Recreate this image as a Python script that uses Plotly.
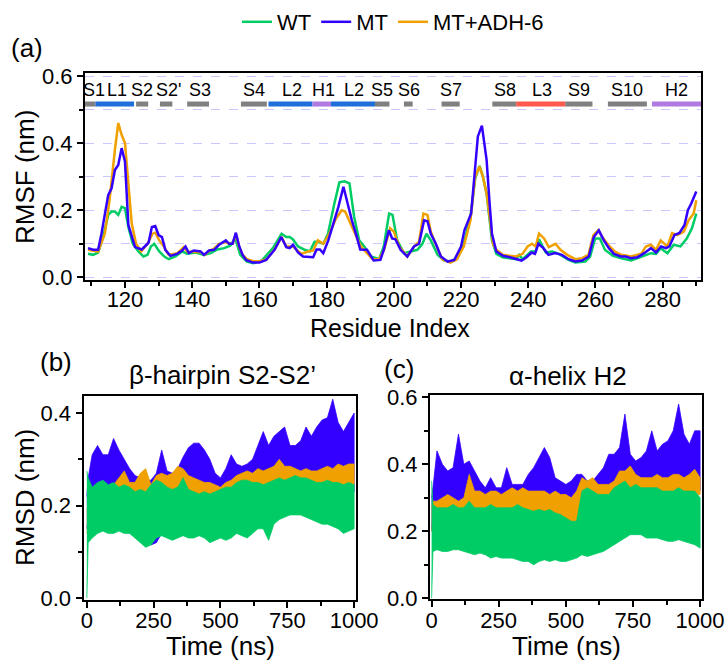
import plotly.graph_objects as go

# ---------------- data: RMSF (panel a) ----------------
res_wt = [109,110.5,112,113.5,115,116,117,118,119,120,121,122.3,124,125.5,126.7,127.7,128.7,130.2,131.7,133,
          135,137,138.5,141,143.5,145.5,147.5,149.5,151.3,152.8,154.3,156.3,158.2,160.7,164,166.6,168,169,170,171.5,
          173.5,175,176.4,177.4,179,180.4,182.3,183.8,185.3,186.8,188.2,189.7,191.2,193.2,195.6,197,198.6,199.6,201,203,
          205,207,208.5,209.7,211,213,215,216.8,218.8,220.8,222.8,224.2,225.5,226.5,227.6,228.5,229.2,230.5,232.4,234.4,
          236.4,237.3,238.3,240.8,242.2,243.2,245.2,247.1,249.1,252,254,257,258.4,259.9,261.3,262.8,265.2,267.7,270.6,272.6,
          274.5,276.5,278,279.4,281.4,283.3,285.3,287.2,288.7,290]
rmsf_wt = [0.07,0.067,0.074,0.12,0.186,0.196,0.196,0.186,0.21,0.206,0.15,0.10,0.077,0.062,0.067,0.092,0.10,0.077,0.062,0.054,
           0.062,0.077,0.07,0.074,0.067,0.072,0.083,0.087,0.094,0.116,0.067,0.047,0.042,0.05,0.087,0.13,0.12,0.12,0.113,0.092,
           0.082,0.077,0.106,0.106,0.10,0.13,0.22,0.283,0.286,0.28,0.18,0.11,0.092,0.062,0.054,0.092,0.19,0.186,0.11,0.072,
           0.077,0.082,0.10,0.13,0.11,0.067,0.05,0.047,0.057,0.10,0.18,0.295,0.332,0.30,0.25,0.18,0.11,0.07,0.06,0.057,
           0.054,0.067,0.054,0.077,0.077,0.113,0.074,0.077,0.07,0.052,0.044,0.047,0.062,0.116,0.116,0.082,0.064,0.057,0.05,0.057,
           0.064,0.072,0.07,0.087,0.072,0.097,0.092,0.116,0.146,0.19]

res_mt = [109,110.5,112,113,115,116,117,118,119,120,121,122,123,125,127,128,129,130,131,132,
          133.5,135.5,137,138,139,140.5,142.5,143.5,145,146.5,148,150,151,152,153,154,155,156,158,160,
          162,164.5,166.5,168,169,170,171.5,173,175,176,177,178,179,180.5,182,183.5,185,186,187.5,189,
          190,192,194,196,197,198.5,199.5,200.5,202,204,206,207.5,209,210,211,212.5,214,216,218,220,
          221,223,224,225,226.2,227.6,228.5,229.2,230.5,232.5,234.5,236.5,238,239.5,241,242,243,244.5,246,248,
          250,252,254,256,258,259.5,261,262.5,264,265.5,267.5,269,270.5,272.5,274.5,276.5,278,279.5,281,282,
          283.5,285,286.5,287.5,288.5,290]
rmsf_mt = [0.087,0.082,0.082,0.13,0.245,0.265,0.32,0.335,0.385,0.345,0.156,0.12,0.09,0.083,0.103,0.15,0.153,0.126,0.12,0.082,
           0.064,0.07,0.08,0.092,0.072,0.08,0.077,0.067,0.08,0.082,0.097,0.11,0.10,0.10,0.133,0.092,0.067,0.052,0.044,0.044,
           0.052,0.082,0.12,0.09,0.087,0.097,0.074,0.062,0.06,0.06,0.083,0.083,0.072,0.11,0.16,0.21,0.27,0.23,0.17,0.12,
           0.083,0.082,0.05,0.052,0.082,0.14,0.116,0.113,0.082,0.062,0.092,0.10,0.17,0.167,0.13,0.10,0.062,0.047,0.052,0.092,
           0.14,0.19,0.31,0.42,0.452,0.35,0.22,0.13,0.077,0.064,0.06,0.054,0.05,0.06,0.074,0.07,0.10,0.087,0.067,0.072,
           0.067,0.054,0.047,0.05,0.062,0.12,0.14,0.11,0.087,0.07,0.062,0.062,0.057,0.06,0.072,0.087,0.074,0.092,0.087,0.092,
           0.126,0.132,0.156,0.20,0.22,0.256]

res_adh = [109,112,114,115.4,117,118,119,120,121,122,123.3,124.8,126.7,128.2,129,130.2,131.7,133,135.6,137.5,
           138.5,140.5,142.5,143.7,145,146.4,148,150,151,152,153,154,155,156.3,158.2,160.2,162.2,164.6,166.6,168,
           170,172.5,174.4,176,177.4,179,180.8,182.8,184.5,185.5,187.3,188.7,190.2,193.7,195.6,197.1,198.9,200,201.6,204,
           206,207.5,208.8,210,211,212.4,214.4,216.8,218.8,220.8,222.8,224.2,225.5,226.5,227.6,228.5,229.5,230.5,232.4,234.4,
           236.4,238.3,239.8,241.1,242.2,243.2,244.7,246.1,248.1,249.6,251.6,254,256,257.9,259.4,260.8,262.3,263.8,265.7,267.7,
           270.6,273.6,275,276.5,278,279.4,281.4,282.8,284.3,286.3,287.7,289.2,290]
rmsf_adh = [0.082,0.077,0.13,0.23,0.38,0.46,0.425,0.40,0.28,0.16,0.10,0.077,0.10,0.13,0.133,0.11,0.09,0.067,0.072,0.09,
            0.077,0.075,0.075,0.067,0.078,0.085,0.10,0.105,0.10,0.10,0.128,0.09,0.067,0.054,0.048,0.048,0.054,0.085,0.12,0.092,
            0.092,0.07,0.077,0.08,0.11,0.10,0.13,0.175,0.20,0.196,0.156,0.12,0.092,0.054,0.054,0.082,0.146,0.136,0.092,0.062,
            0.092,0.106,0.19,0.186,0.136,0.10,0.054,0.044,0.054,0.092,0.17,0.30,0.33,0.30,0.25,0.18,0.10,0.082,0.067,0.064,
            0.062,0.07,0.092,0.10,0.092,0.13,0.116,0.09,0.10,0.082,0.067,0.054,0.057,0.067,0.126,0.14,0.116,0.097,0.077,0.067,
            0.062,0.07,0.092,0.097,0.082,0.11,0.092,0.132,0.126,0.136,0.17,0.19,0.23]

# secondary structure annotation (residue ranges)
ss_names = ["S1","L1","S2","S2'","S3","S4","L2","H1","L2","S5","S6","S7","S8","L3","S9","S10","H2"]
ss_kind  = ["S","L","S","S","S","S","L","H","L","S","S","S","S","R","S","S","H"]
ss_start = [108.1,111.2,123.3,130.4,138.5,154.5,162.7,175.8,181.3,194.4,203.0,214.2,229.3,236.4,251.0,263.7,276.8]
ss_end   = [111.2,122.7,126.9,134.1,145.0,162.2,175.8,181.3,194.4,198.7,205.6,219.6,236.4,251.0,259.1,275.3,291.4]
ss_label_res = [110.7,117.5,125.2,132.9,142.3,158.5,169.6,179.0,188.2,196.4,204.6,217.0,233.1,244.0,255.1,269.5,284.0]

# ---------------- data: RMSD time series (panels b, c), band edges read per window ----------------
time_ns = [0,5,20,40,60,80,100,120,140,160,180,200,220,240,260,280,300,320,340,360,380,400,420,440,460,480,500,
           520,540,560,580,600,620,640,660,680,700,720,740,760,780,800,820,840,860,880,900,920,940,960,980,1000]

b_mt_hi  = [0.22,0.26,0.31,0.33,0.31,0.31,0.345,0.32,0.30,0.28,0.265,0.26,0.255,0.255,0.27,0.32,0.275,0.27,0.28,0.305,
            0.325,0.335,0.335,0.32,0.30,0.27,0.26,0.28,0.31,0.29,0.285,0.29,0.30,0.33,0.36,0.33,0.35,0.36,0.37,0.33,
            0.33,0.34,0.37,0.35,0.37,0.385,0.39,0.43,0.38,0.36,0.38,0.40]
b_mt_lo  = [0.15,0.17,0.19,0.20,0.20,0.20,0.20,0.20,0.19,0.18,0.17,0.15,0.12,0.115,0.12,0.14,0.16,0.13,0.14,0.17,
            0.18,0.19,0.19,0.18,0.14,0.17,0.18,0.19,0.20,0.20,0.20,0.21,0.20,0.19,0.20,0.21,0.22,0.20,0.18,0.22,
            0.22,0.23,0.23,0.23,0.22,0.22,0.23,0.23,0.23,0.22,0.22,0.23]
b_adh_hi = [0.19,0.20,0.23,0.24,0.245,0.235,0.245,0.26,0.275,0.25,0.25,0.27,0.28,0.245,0.265,0.27,0.265,0.27,0.285,0.28,
            0.265,0.26,0.255,0.25,0.25,0.245,0.24,0.25,0.255,0.265,0.27,0.275,0.27,0.28,0.275,0.28,0.285,0.30,0.285,0.285,
            0.28,0.275,0.28,0.275,0.275,0.28,0.285,0.28,0.29,0.285,0.29,0.29]
b_adh_lo = [0.14,0.15,0.17,0.19,0.20,0.20,0.20,0.20,0.20,0.20,0.20,0.20,0.20,0.20,0.21,0.21,0.21,0.21,0.21,0.20,
            0.20,0.20,0.20,0.20,0.20,0.20,0.20,0.20,0.20,0.21,0.21,0.22,0.22,0.23,0.23,0.23,0.24,0.24,0.24,0.24,
            0.24,0.24,0.24,0.24,0.24,0.24,0.245,0.245,0.245,0.245,0.245,0.245]
b_wt_hi  = [0.275,0.26,0.24,0.25,0.255,0.245,0.25,0.24,0.245,0.24,0.23,0.235,0.23,0.245,0.255,0.25,0.24,0.235,0.24,0.26,
            0.235,0.23,0.225,0.23,0.225,0.23,0.235,0.24,0.24,0.25,0.255,0.255,0.25,0.25,0.245,0.25,0.255,0.26,0.255,0.26,
            0.265,0.26,0.26,0.255,0.25,0.25,0.255,0.25,0.25,0.245,0.25,0.245]
b_wt_lo  = [0.0,0.12,0.13,0.14,0.145,0.14,0.14,0.145,0.14,0.14,0.13,0.12,0.11,0.115,0.13,0.135,0.13,0.125,0.13,0.135,
            0.13,0.13,0.135,0.13,0.12,0.125,0.13,0.125,0.13,0.14,0.135,0.13,0.14,0.15,0.15,0.125,0.16,0.17,0.175,0.18,
            0.18,0.18,0.175,0.17,0.165,0.16,0.16,0.155,0.15,0.14,0.145,0.15]

c_mt_hi  = [0.30,0.33,0.44,0.40,0.38,0.39,0.49,0.40,0.41,0.38,0.35,0.33,0.36,0.33,0.33,0.39,0.34,0.34,0.34,0.37,
            0.39,0.42,0.45,0.42,0.36,0.35,0.34,0.35,0.37,0.37,0.35,0.35,0.37,0.39,0.43,0.43,0.45,0.55,0.43,0.41,
            0.42,0.44,0.50,0.44,0.46,0.47,0.50,0.58,0.49,0.46,0.50,0.50]
c_mt_lo  = [0.20,0.25,0.27,0.27,0.27,0.27,0.27,0.27,0.26,0.25,0.23,0.21,0.20,0.22,0.24,0.25,0.25,0.25,0.26,0.26,
            0.27,0.28,0.28,0.27,0.24,0.22,0.21,0.22,0.22,0.24,0.26,0.27,0.27,0.26,0.22,0.27,0.29,0.30,0.30,0.30,
            0.30,0.31,0.31,0.31,0.31,0.32,0.32,0.33,0.32,0.32,0.32,0.32]
c_adh_hi = [0.27,0.29,0.29,0.30,0.31,0.30,0.29,0.30,0.37,0.32,0.32,0.31,0.32,0.32,0.31,0.32,0.33,0.32,0.33,0.32,
            0.32,0.32,0.32,0.31,0.32,0.31,0.31,0.30,0.32,0.36,0.35,0.36,0.34,0.34,0.34,0.35,0.38,0.38,0.395,0.37,
            0.36,0.36,0.36,0.37,0.36,0.36,0.37,0.37,0.36,0.37,0.385,0.36]
c_adh_lo = [0.20,0.22,0.24,0.24,0.245,0.245,0.25,0.25,0.25,0.25,0.25,0.24,0.24,0.25,0.25,0.25,0.26,0.26,0.26,0.25,
            0.245,0.24,0.24,0.24,0.235,0.23,0.225,0.225,0.23,0.27,0.27,0.27,0.28,0.28,0.28,0.29,0.29,0.30,0.30,0.30,
            0.30,0.30,0.30,0.30,0.31,0.31,0.31,0.31,0.31,0.31,0.31,0.31]
c_wt_hi  = [0.35,0.28,0.27,0.27,0.27,0.28,0.27,0.27,0.29,0.27,0.27,0.27,0.28,0.27,0.27,0.27,0.27,0.28,0.27,0.265,
            0.26,0.265,0.26,0.265,0.255,0.25,0.24,0.23,0.23,0.32,0.33,0.32,0.31,0.31,0.31,0.33,0.34,0.35,0.33,0.34,
            0.33,0.33,0.33,0.33,0.32,0.32,0.32,0.33,0.32,0.32,0.32,0.30]
c_wt_lo  = [0.0,0.14,0.145,0.14,0.14,0.145,0.145,0.14,0.135,0.13,0.135,0.13,0.12,0.125,0.12,0.12,0.12,0.115,0.11,0.11,
            0.10,0.11,0.115,0.11,0.115,0.11,0.11,0.115,0.12,0.13,0.125,0.13,0.135,0.14,0.15,0.16,0.17,0.18,0.19,0.19,
            0.19,0.18,0.18,0.18,0.175,0.17,0.17,0.175,0.17,0.165,0.16,0.15]

# ---------------- styling ----------------
C_WT, C_MT, C_ADH = "#00CC66", "#3300FF", "#F0A000"
SS_COL = {"S": "#808080", "L": "#1F6FDB", "H": "#B07AE0", "R": "#FF5A4D"}
FONT = "Liberation Sans, Arial, sans-serif"
W, H = 727, 661

def px(x):
    return x / W

def py(y):
    return 1 - y / H

fig = go.Figure()

# panel a lines
for name, xs, ys, col, rank in [("WT", res_wt, rmsf_wt, C_WT, 1),
                                ("MT+ADH-6", res_adh, rmsf_adh, C_ADH, 3),
                                ("MT", res_mt, rmsf_mt, C_MT, 2)]:
    fig.add_trace(go.Scatter(x=xs, y=ys, mode="lines", name=name, legendrank=rank,
                             line=dict(color=col, width=2.5), xaxis="x", yaxis="y"))

# panels b, c bands (MT drawn first, WT on top)
def band(hi, lo, col, xa, ya):
    xs = list(time_ns) + list(time_ns[::-1])
    ys = list(hi) + list(lo[::-1])
    fig.add_trace(go.Scatter(x=xs, y=ys, mode="lines", fill="toself", fillcolor=col,
                             line=dict(color=col, width=0.8), showlegend=False,
                             hoverinfo="skip", xaxis=xa, yaxis=ya))

band(b_mt_hi, b_mt_lo, C_MT, "x2", "y2")
band(b_adh_hi, b_adh_lo, C_ADH, "x2", "y2")
band(b_wt_hi, b_wt_lo, C_WT, "x2", "y2")
band(c_mt_hi, c_mt_lo, C_MT, "x3", "y3")
band(c_adh_hi, c_adh_lo, C_ADH, "x3", "y3")
band(c_wt_hi, c_wt_lo, C_WT, "x3", "y3")

axis_common = dict(showline=True, linewidth=2, linecolor="black", mirror=True,
                   ticks="outside", ticklen=6, tickwidth=2, tickcolor="black",
                   zeroline=False, showgrid=False, automargin=False,
                   tickfont=dict(family=FONT, size=22, color="black"))
minor_t = dict(ticks="outside", ticklen=4, tickwidth=2, tickcolor="black")

shapes = []
annotations = []
for s, e, k in zip(ss_start, ss_end, ss_kind):
    shapes.append(dict(type="rect", xref="x", yref="y", x0=s, x1=e, y0=0.509, y1=0.524,
                       fillcolor=SS_COL[k], line=dict(width=0), layer="above"))
for lab, xr in zip(ss_names, ss_label_res):
    annotations.append(dict(text=lab, x=xr, y=0.559, xref="x", yref="y", showarrow=False,
                            font=dict(family=FONT, size=18, color="black")))

def txt(t, x, y, size, angle=0):
    annotations.append(dict(text=t, x=px(x), y=py(y), xref="paper", yref="paper",
                            showarrow=False, textangle=angle, xanchor="center", yanchor="middle",
                            font=dict(family=FONT, size=size, color="black")))

txt("(a)", 27, 48, 26)
txt("RMSF (nm)", 25, 177, 26, -90)
txt("Residue Index", 390, 328, 25)
txt("(b)", 56, 362, 26)
txt("(c)", 399, 369, 26)
txt("β-hairpin S2-S2’", 222, 375, 26)
txt("α-helix H2", 568, 376, 26)
txt("RMSD (nm)", 25, 498, 26, -90)
txt("Time (ns)", 220, 646, 26)
txt("Time (ns)", 566, 646, 26)

fig.update_layout(
    width=W, height=H, margin=dict(l=0, r=0, t=0, b=0, pad=0, autoexpand=False),
    paper_bgcolor="white", plot_bgcolor="white",
    font=dict(family=FONT, size=22, color="black"),
    showlegend=True,
    legend=dict(orientation="h", x=px(393), xanchor="center", y=py(22), yanchor="middle",
                font=dict(family=FONT, size=22, color="black"), bgcolor="rgba(0,0,0,0)",
                traceorder="normal"),
    xaxis=dict(axis_common, domain=[px(85), px(701)], range=[108.1, 291.4], anchor="y",
               tick0=0, dtick=20, ticklabelstandoff=-7, minor=dict(minor_t, dtick=10)),
    yaxis=dict(axis_common, domain=[py(280), py(73)], range=[-0.008, 0.609], anchor="x",
               tick0=0, dtick=0.2, tickformat=".1f", showgrid=True, gridcolor="#C8C8FF", griddash="dash", gridwidth=1,
               minor=dict(minor_t, dtick=0.1, showgrid=True, gridcolor="#C8C8FF", griddash="dash", gridwidth=1)),
    xaxis2=dict(axis_common, domain=[px(83.5), px(356)], range=[-12.5, 1007], anchor="y2",
                tick0=0, dtick=250, ticklabelstandoff=-6, minor=dict(minor_t, dtick=125)),
    yaxis2=dict(axis_common, domain=[py(600), py(396)], range=[-0.004, 0.437], anchor="x2",
                tick0=0, dtick=0.2, tickformat=".1f", minor=dict(minor_t, dtick=0.1)),
    xaxis3=dict(axis_common, domain=[px(430), px(701.7)], range=[-6, 1006], anchor="y3",
                tick0=0, dtick=250, ticklabelstandoff=-6, minor=dict(minor_t, dtick=125)),
    yaxis3=dict(axis_common, domain=[py(599.3), py(395)], range=[-0.003, 0.607], anchor="x3",
                tick0=0, dtick=0.2, tickformat=".1f", minor=dict(minor_t, dtick=0.1)),
    shapes=shapes, annotations=annotations,
)

fig.write_html("out.html", config={"displayModeBar": False},
               post_script="document.body.style.margin='0';document.body.style.overflow='hidden';")
